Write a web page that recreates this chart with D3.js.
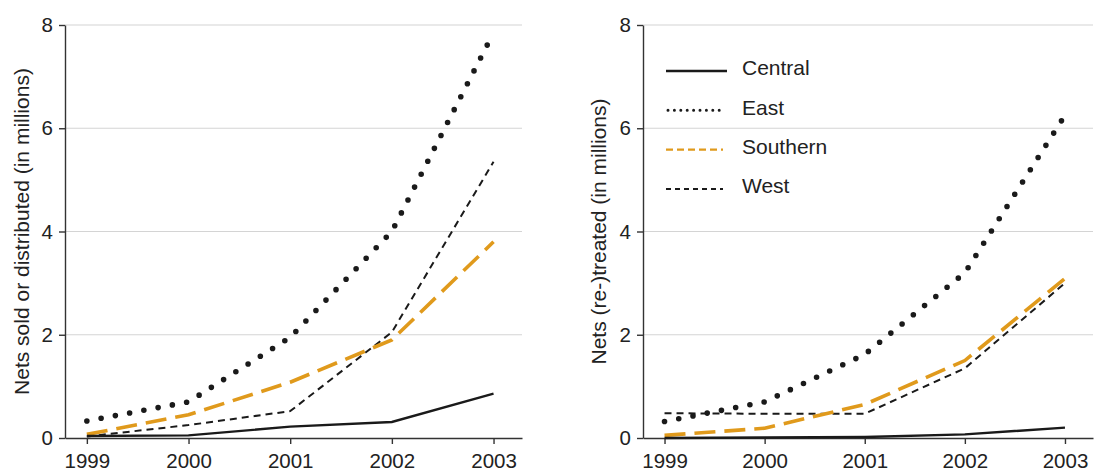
<!DOCTYPE html>
<html>
<head>
<meta charset="utf-8">
<script src="https://cdn.jsdelivr.net/npm/d3@7"></script>
<style>
  body { margin: 0; background: #fff; }
  svg text { font-family: "Liberation Sans", Arial, sans-serif; fill: #222; }
</style>
</head>
<body>
<svg id="chart" width="1101" height="472"></svg>
<script>
// data
const years = [1999, 2000, 2001, 2002, 2003];
const regions = ["Central", "East", "Southern", "West"];
const yTicks = [0, 2, 4, 6, 8];

// left panel: nets sold or distributed (millions)
const soldCentral = [0.04, 0.05, 0.22, 0.31, 0.86];
const soldEast = [0.33, 0.70, 1.95, 4.00, 7.85];
const soldSouthern = [0.07, 0.45, 1.08, 1.90, 3.80];
const soldWest = [0.03, 0.25, 0.52, 2.05, 5.35];

// right panel: nets (re-)treated (millions)
const treatCentral = [0.0, 0.01, 0.02, 0.07, 0.20];
const treatEast = [0.32, 0.70, 1.62, 3.20, 6.25];
const treatSouthern = [0.05, 0.19, 0.65, 1.50, 3.09];
const treatWest = [0.48, 0.47, 0.47, 1.35, 3.00];

const styles = {
    Central: { color: "#1a1a1a", width: 2.4, dash: null, cap: "butt", legendWidth: 2.4, legendDash: null },
    East: { color: "#1a1a1a", width: 5.6, dash: "0,14.5", cap: "round", legendWidth: 3, legendDash: "0,6.4" },
    Southern: { color: "#e09a1c", width: 3.6, dash: "21,9", cap: "butt", legendWidth: 2.2, legendDash: "7,4" },
    West: { color: "#1a1a1a", width: 2, dash: "7,5", cap: "butt", legendWidth: 2, legendDash: "5,4" }
};

const svg = d3.select("#chart");

function drawPanel(opts) {
    const g = svg.append("g");
    const x = d3.scaleLinear()
        .domain([years[0] - 0.215, years[years.length - 1] + 0.28])
        .range([opts.left, opts.right]);
    const y = d3.scaleLinear().domain([0, 8]).range([438, 25]);

    // grid
    g.append("g")
        .selectAll("line")
        .data(yTicks.slice(1))
        .join("line")
            .attr("x1", opts.left)
            .attr("x2", opts.right)
            .attr("y1", d => y(d))
            .attr("y2", d => y(d))
            .attr("stroke", "#d4d4d4")
            .attr("stroke-width", 1.2);

    const xAxis = d3.axisBottom(x).tickValues(years).tickFormat(d3.format("d"))
        .tickSize(6).tickPadding(9).tickSizeOuter(0);
    const yAxis = d3.axisLeft(y).tickValues(yTicks).tickSize(6).tickPadding(6).tickSizeOuter(0);

    const gx = g.append("g").attr("transform", "translate(0," + y(0) + ")").call(xAxis);
    const gy = g.append("g").attr("transform", "translate(" + opts.left + ",0)").call(yAxis);
    for (let ax of [gx, gy]) {
        ax.selectAll("path, line").attr("stroke", "#333").attr("stroke-width", 1.4);
        ax.selectAll("text").style("font-size", "20.5px").attr("fill", "#222");
    }

    g.append("text")
        .attr("transform", "translate(" + opts.titleX + "," + y(4) + ") rotate(-90)")
        .attr("text-anchor", "middle")
        .attr("dy", "0.35em")
        .style("font-size", "21px")
        .text(opts.title);

    const line = d3.line().x((d, i) => x(years[i])).y(d => y(d));
    // draw order: West, Southern, Central, East
    for (let name of ["West", "Southern", "Central", "East"]) {
        const s = styles[name];
        g.append("path")
            .datum(opts.series[name])
            .attr("d", line)
            .attr("fill", "none")
            .attr("stroke", s.color)
            .attr("stroke-width", s.width)
            .attr("stroke-linecap", s.cap)
            .attr("stroke-dasharray", s.dash);
    }
    return { x, y };
}

drawPanel({
    left: 65, right: 522, titleX: 22,
    title: "Nets sold or distributed (in millions)",
    series: { Central: soldCentral, East: soldEast, Southern: soldSouthern, West: soldWest }
});

drawPanel({
    left: 643, right: 1093, titleX: 599,
    title: "Nets (re-)treated (in millions)",
    series: { Central: treatCentral, East: treatEast, Southern: treatSouthern, West: treatWest }
});

// legend in right panel
const legendY = d3.scalePoint().domain(regions).range([71, 189]);
const legend = svg.append("g");
for (let name of regions) {
    const s = styles[name];
    legend.append("line")
        .attr("x1", name === "East" ? 668 : 666)
        .attr("x2", name === "Central" ? 727 : 723)
        .attr("y1", legendY(name))
        .attr("y2", legendY(name))
        .attr("stroke", s.color)
        .attr("stroke-width", s.legendWidth)
        .attr("stroke-linecap", name === "East" ? "round" : "butt")
        .attr("stroke-dasharray", s.legendDash);
    legend.append("text")
        .attr("x", 742)
        .attr("y", legendY(name) - 3)
        .attr("dy", "0.35em")
        .style("font-size", "21px")
        .text(name);
}
</script>
</body>
</html>
